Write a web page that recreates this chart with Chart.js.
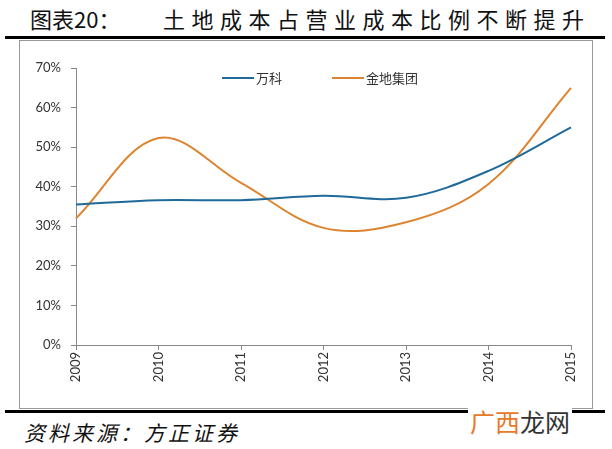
<!DOCTYPE html>
<html>
<head>
<meta charset="utf-8">
<script src="https://cdn.jsdelivr.net/npm/chart.js@4"></script>
<style>
  body { margin: 0; width: 612px; height: 449px; background: #fff; position: relative; overflow: hidden; font-family: "Noto Sans CJK SC", sans-serif; }
  .title { position: absolute; top: 2px; font-size: 22px; color: #111; }
  .rule { position: absolute; left: 5px; width: 600px; height: 3px; background: #000; }
  .frame { position: absolute; left: 19px; top: 40px; width: 572px; height: 367px; border: 1px solid #999; }
  .legend { position: absolute; top: 68px; font-size: 13px; color: #333; display: flex; align-items: center; }
  .legend i { display: inline-block; width: 32px; height: 2px; margin-right: 2px; }
  .source { position: absolute; left: 24px; top: 417px; font-size: 21px; letter-spacing: 3px; font-style: italic; color: #111; }
  .wm { position: absolute; left: 468px; top: 403px; font-size: 25px; background: #fff; padding: 0 2px; }
</style>
</head>
<body>
<div class="title" style="left:30px">图表20：</div>
<div class="title" style="left:163px; letter-spacing:6.5px">土地成本占营业成本比例不断提升</div>
<div class="rule" style="top:36px"></div>
<div class="frame"><canvas id="grafico"></canvas></div>
<div class="legend" style="left:222px"><i style="background:#1f6a9a"></i>万科</div>
<div class="legend" style="left:332px"><i style="background:#dc842f"></i>金地集团</div>
<div class="rule" style="top:410px"></div>
<div class="source">资料来源：方正证券</div>
<div class="wm"><span style="color:#e8782a">广西</span><span style="color:#333">龙网</span></div>
<script>
const anos = ["2009", "2010", "2011", "2012", "2013", "2014", "2015"];
const vanke = [35.5, 36.6, 36.6, 37.7, 37.2, 44, 55];
const jindi = [32, 52.3, 41, 29.6, 31, 40.7, 65];

const grafico = document.getElementById("grafico");
grafico.style.width = "572px";
grafico.style.height = "367px";

new Chart(grafico, {
  type: "line",
  data: {
    labels: anos,
    datasets: [
      {
        label: "万科",
        data: vanke,
        borderColor: "#1f6a9a",
        borderWidth: 2,
        pointRadius: 0,
        tension: 0.36,
      },
      {
        label: "金地集团",
        data: jindi,
        borderColor: "#dc842f",
        borderWidth: 2,
        pointRadius: 0,
        tension: 0.36,
      },
    ],
  },
  options: {
    responsive: false,
    animation: false,
    layout: { padding: { left: 0, right: 21, top: 27, bottom: 0 } },
    plugins: { legend: { display: false }, tooltip: { enabled: false } },
    scales: {
      x: {
        offset: false,
        grid: { drawOnChartArea: false, color: "#888", tickLength: 5 },
        border: { color: "#888" },
        ticks: { color: "#333", font: { family: "Lato", size: 13 }, minRotation: 90, maxRotation: 90, padding: 2 },
        afterFit: (s) => { s.height = 63; },
      },
      y: {
        min: 0,
        max: 70,
        grid: { drawOnChartArea: false, color: "#888", tickLength: 5 },
        border: { color: "#888" },
        ticks: { stepSize: 10, color: "#333", font: { family: "Lato", size: 13 }, padding: 10, callback: (v) => v + "%" },
        afterFit: (s) => { s.width = 56; },
      },
    },
  },
});
</script>
</body>
</html>
